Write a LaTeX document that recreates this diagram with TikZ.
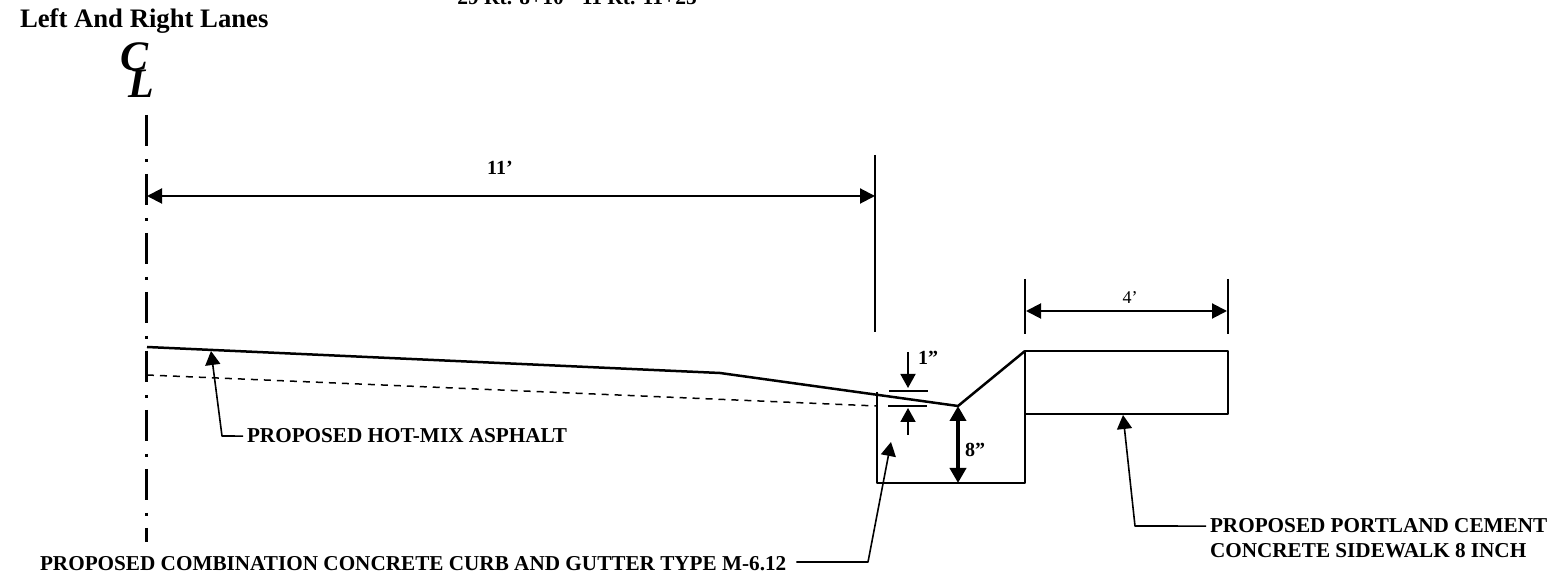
\documentclass[tikz,border=0pt]{standalone}
\usepackage{fontspec}
\setmainfont{Liberation Serif}
\usetikzlibrary{arrows.meta}
\tikzset{
  calloutText/.style={anchor=base west,inner sep=0pt,outer sep=4pt,font=\fontsize{21.2}{24}\selectfont\bfseries},
  dimText/.style={anchor=base,inner sep=0pt,outer sep=0pt,font=\fontsize{20}{24}\selectfont\bfseries},
  titleText/.style={anchor=base west,inner sep=0pt,outer sep=0pt,font=\fontsize{26.7}{30}\selectfont\bfseries},
  clText/.style={anchor=base,inner sep=0pt,outer sep=0pt,font=\fontsize{42}{48}\selectfont\bfseries\itshape},
  profileLine/.style={draw=black,line width=2.5pt,line join=round},
  thinLine/.style={draw=black,line width=1.6pt},
  dimArrow/.style={draw=black,line width=2pt,{Triangle[length=15pt,width=15pt]}-{Triangle[length=15pt,width=15pt]}},
  tickArrow/.style={draw=black,line width=1.8pt,-{Triangle[length=14pt,width=15pt]}},
  leaderLine/.style={draw=black,line width=1.6pt,line join=round,-{Triangle[length=14pt,width=15pt]}}
}
\begin{document}
\begin{tikzpicture}[x=1pt,y=1pt]
\definecolor{fillColor}{RGB}{255,255,255}
\path[use as bounding box,fill=fillColor] (0,0) rectangle (1550,578);

% headings
\node[titleText] (sideTitle) at (20,550) {Left And Right Lanes};
\node[dimText,font=\fontsize{21.5}{24}\selectfont\bfseries] (stationTitle) at (577,573) {29 Rt. 8+10 - 11 Rt. 11+25};
\node[clText] (clC) at (135,507) {C};
\node[clText] (clL) at (141,480) {L};

% centre line
\coordinate (clTop) at (146,463);
\coordinate (clBottom) at (146,36);
\path[draw=black,line width=3pt,dash pattern=on 31pt off 13pt on 3pt off 12pt] (clTop) -- (clBottom);

% extension lines
\coordinate (extA1) at (875,423);
\coordinate (extA2) at (875,246);
\coordinate (extB1) at (1025,299);
\coordinate (extB2) at (1025,244);
\coordinate (extC1) at (1228,299);
\coordinate (extC2) at (1228,244);
\path[thinLine] (extA1) -- (extA2);
\path[thinLine] (extB1) -- (extB2);
\path[thinLine] (extC1) -- (extC2);

% 11 foot and 4 foot dimensions
\coordinate (laneLeft) at (147,382);
\coordinate (laneRight) at (875,382);
\path[dimArrow] (laneLeft) -- (laneRight);
\node[dimText] (laneDim) at (500,403) {11’};
\coordinate (walkLeft) at (1026,267);
\coordinate (walkRight) at (1227,267);
\path[dimArrow] (walkLeft) -- (walkRight);
\node[dimText,font=\fontsize{18}{20}\selectfont] (walkDim) at (1130,274) {4’};

% road surface and existing grade
\coordinate (roadStart) at (147,231);
\coordinate (roadBreak) at (720,205);
\coordinate (flowLine) at (958,172);
\coordinate (curbTop) at (1025,227);
\path[profileLine] (roadStart) -- (roadBreak) -- (flowLine) -- (curbTop);
\coordinate (gradeStart) at (147,203);
\coordinate (gradeEnd) at (877,172);
\path[draw=black,line width=1.5pt,dash pattern=on 7pt off 6pt] (gradeStart) -- (gradeEnd);

% curb and gutter
\coordinate (curbLeftTop) at (877,186);
\coordinate (curbLeftBottom) at (877,95);
\coordinate (curbRightBottom) at (1025,95);
\path[profileLine] (curbLeftTop) -- (curbLeftBottom) -- (curbRightBottom) -- (curbTop);

% sidewalk
\path[profileLine] (1025,227) rectangle (1228,164);

% 1 inch and 8 inch dimensions
\coordinate (tickUpperL) at (889,187);
\coordinate (tickUpperR) at (928,187);
\coordinate (tickLowerL) at (888,172);
\coordinate (tickLowerR) at (927,172);
\path[thinLine] (tickUpperL) -- (tickUpperR);
\path[thinLine] (tickLowerL) -- (tickLowerR);
\coordinate (oneTop) at (908,226);
\coordinate (oneTopEnd) at (908,190);
\coordinate (oneBottom) at (908,143);
\coordinate (oneBottomEnd) at (908,170);
\path[tickArrow] (oneTop) -- (oneTopEnd);
\path[tickArrow] (oneBottom) -- (oneBottomEnd);
\node[dimText] (oneDim) at (928,213) {1”};
\coordinate (gutterBottom) at (958,95);
\path[draw=black,line width=4.5pt,{Triangle[length=15pt,width=16pt]}-{Triangle[length=15pt,width=16pt]}] (flowLine) -- (gutterBottom);
\node[dimText] (eightDim) at (975,121) {8”};

% callouts
\node[calloutText] (hmaLabel) at (243,135) {PROPOSED HOT-MIX ASPHALT};
\coordinate (hmaElbow) at (222,142);
\coordinate (hmaTip) at (211,227);
\path[leaderLine] (hmaLabel.west) -- (hmaElbow) -- (hmaTip);
\node[calloutText] (curbLabel) at (36,7) {PROPOSED COMBINATION CONCRETE CURB AND GUTTER TYPE M-6.12};
\coordinate (curbElbow) at (868,16);
\coordinate (curbTip) at (891,136);
\path[leaderLine] ([xshift=6pt]curbLabel.east |- curbElbow) -- (curbElbow) -- (curbTip);
\node[calloutText] (walkLabelA) at (1206,45) {PROPOSED PORTLAND CEMENT};
\node[calloutText] (walkLabelB) at (1206,20) {CONCRETE SIDEWALK 8 INCH};
\coordinate (walkElbow) at (1135,52);
\coordinate (walkTip) at (1123,163);
\path[leaderLine] (walkLabelA.west) -- (walkElbow) -- (walkTip);
\end{tikzpicture}
\end{document}
